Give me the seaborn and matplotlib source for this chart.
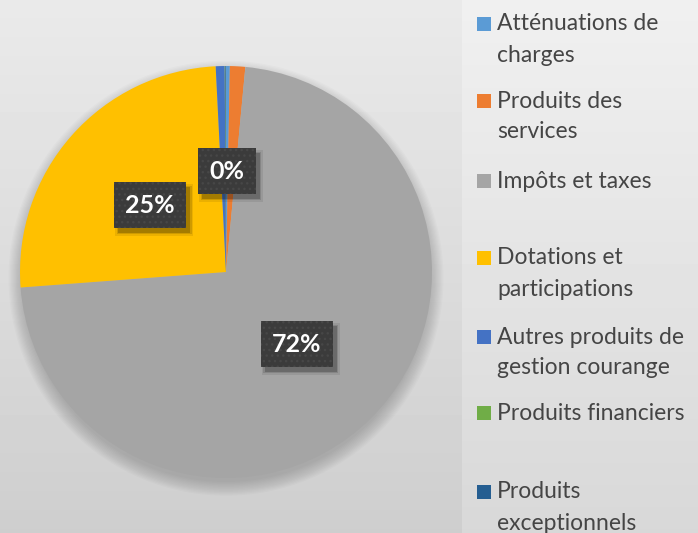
import numpy as np
import matplotlib
matplotlib.use("Agg")
import matplotlib.pyplot as plt
import seaborn as sns
from matplotlib.patches import Rectangle, Circle

# ---- data ----
categories = ["Atténuations de charges", "Produits des services", "Impôts et taxes",
              "Dotations et participations", "Autres produits de gestion courange",
              "Produits financiers", "Produits exceptionnels"]
legend_labels = ["Atténuations de\ncharges", "Produits des\nservices", "Impôts et taxes",
                 "Dotations et\nparticipations", "Autres produits de\ngestion courange",
                 "Produits financiers", "Produits\nexceptionnels"]
values = [0.3, 1.2, 72.3, 25.4, 0.7, 0.05, 0.05]
show_label = [True, False, True, True, False, False, False]
colors = ["#5B9BD5", "#ED7D31", "#A5A5A5", "#FFC000", "#4472C4", "#70AD47", "#255E91"]

sns.set_theme(style="white")
plt.rcParams['font.family'] = ['Lato', 'DejaVu Sans']
plt.rcParams['hatch.linewidth'] = 1.0

W, H = 698, 533
fig = plt.figure(figsize=(W / 100, H / 100), dpi=100)

# background gradient
bg = fig.add_axes([0, 0, 1, 1])
bg.axis('off')
yy = np.linspace(0, 1, H)[:, None]
xx = np.linspace(0, 1, W)[None, :]
img = 234 + (206 - 234) * yy + 0 * xx
img = img + np.where(xx > 462 / W, 6 + 4 * yy, 0)
bg.imshow(img, cmap='gray', vmin=0, vmax=255, extent=[0, 1, 0, 1],
          aspect='auto', origin='upper', interpolation='bilinear')
bg.set_xlim(0, 1)
bg.set_ylim(0, 1)

# pie
cx, cy, r = 226, 272, 206
ax = fig.add_axes([(cx - r) / W, (H - cy - r) / H, 2 * r / W, 2 * r / H])
ax.set_facecolor('none')
for k in range(12):
    ax.add_patch(Circle((0.0, -0.03), 0.99 + 0.006 * k, color='black',
                        alpha=0.014, lw=0, zorder=0, clip_on=False))
wedges, _ = ax.pie(values, colors=colors, startangle=90, counterclock=False,
                   radius=1, wedgeprops=dict(linewidth=0))
for w in wedges:
    w.set_zorder(2)
ax.set_xlim(-1, 1)
ax.set_ylim(-1, 1)
ax.set_aspect('equal')
ax.axis('off')

total = sum(values)
label_texts = []
for w, v, s in zip(wedges, values, show_label):
    if not s:
        continue
    mid = np.deg2rad((w.theta1 + w.theta2) / 2)
    x, y = 0.49 * np.cos(mid), 0.49 * np.sin(mid)
    txt = f"{round(v / total * 100)}%"
    t = ax.text(x, y, txt, ha='center', va='center', fontsize=18, fontweight='bold',
                color='white', zorder=5,
                bbox=dict(boxstyle='square,pad=0.45', facecolor='#3b3b3b', edgecolor='#474747',
                          hatch='...', linewidth=0))
    label_texts.append(t)

# soft drop shadows under the label boxes
fig.canvas.draw()
inv = ax.transData.inverted()
for t in label_texts:
    bb = t.get_bbox_patch().get_window_extent()
    for grow, a in [(3, 0.08), (1.5, 0.12), (0, 0.2)]:
        (x0, y0), (x1, y1) = inv.transform([(bb.x0 + 4 - grow, bb.y0 - 5 - grow),
                                            (bb.x1 + 4 + grow, bb.y1 - 5 + grow)])
        ax.add_patch(Rectangle((x0, y0), x1 - x0, y1 - y0, facecolor='black',
                               alpha=a, lw=0, zorder=4))

# legend
legend_y = [24, 101, 181, 258, 337, 413, 492]
line_gap = 31
for lab, col, y0 in zip(legend_labels, colors, legend_y):
    fig.patches.append(Rectangle((477 / W, 1 - (y0 + 7) / H), 14 / W, 14 / H,
                                 transform=fig.transFigure, facecolor=col,
                                 edgecolor='none', zorder=5))
    for j, line in enumerate(lab.split("\n")):
        fig.text(497 / W, 1 - (y0 + j * line_gap) / H, line, ha='left', va='center',
                 fontsize=16.5, color='#454545')

fig.savefig("out.png", dpi=100)
